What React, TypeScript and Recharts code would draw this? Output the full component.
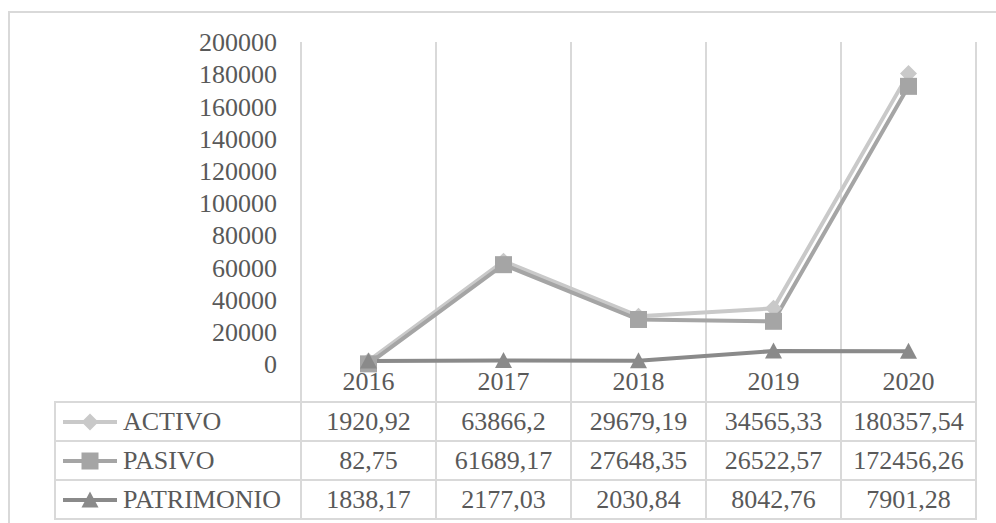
import { LineChart, Line, XAxis, YAxis, CartesianGrid } from 'recharts';

const YEARS = ['2016', '2017', '2018', '2019', '2020'];
const ACTIVO = [1920.92, 63866.2, 29679.19, 34565.33, 180357.54];
const PASIVO = [82.75, 61689.17, 27648.35, 26522.57, 172456.26];
const PATRIMONIO = [1838.17, 2177.03, 2030.84, 8042.76, 7901.28];
const Y_TICKS = [0, 20000, 40000, 60000, 80000, 100000, 120000, 140000, 160000, 180000, 200000];

const FONT = '"Liberation Serif", "Times New Roman", serif';
const TEXT = '#595959';
const GRID = '#d9d9d9';

const SERIES = [
  { key: 'activo', name: 'ACTIVO', values: ACTIVO, color: '#c9c9c9', shape: 'diamond' },
  { key: 'pasivo', name: 'PASIVO', values: PASIVO, color: '#a5a5a5', shape: 'square' },
  { key: 'patrimonio', name: 'PATRIMONIO', values: PATRIMONIO, color: '#8a8a8a', shape: 'triangle' },
];

const data = YEARS.map((year, i) => ({
  year,
  activo: ACTIVO[i],
  pasivo: PASIVO[i],
  patrimonio: PATRIMONIO[i],
}));

const W = 996;
const H = 523;
const PLOT_LEFT = 301;
const PLOT_RIGHT = 976;
const PLOT_TOP = 42;
const PLOT_BOTTOM = 364;
const COL_W = (PLOT_RIGHT - PLOT_LEFT) / YEARS.length;
const ROW_H = 38;

function fmt(v: number) {
  return String(v).replace('.', ',');
}

function Marker({ shape, cx, cy, color }: { shape: string; cx: number; cy: number; color: string }) {
  const s = 8.5;
  if (shape === 'diamond') {
    return <polygon points={`${cx},${cy - s} ${cx + s},${cy} ${cx},${cy + s} ${cx - s},${cy}`} fill={color} />;
  }
  if (shape === 'square') {
    return <rect x={cx - s} y={cy - s} width={s * 2} height={s * 2} fill={color} />;
  }
  return <polygon points={`${cx},${cy - s} ${cx + s},${cy + s - 1} ${cx - s},${cy + s - 1}`} fill={color} />;
}

const makeDot = (shape: string, color: string) => (props: any) => {
  const { cx, cy, index } = props;
  if (cx == null || cy == null) return <g key={index} />;
  return <Marker key={index} shape={shape} cx={cx} cy={cy} color={color} />;
};

function Swatch({ shape, color }: { shape: string; color: string }) {
  return (
    <svg width={56} height={22} style={{ display: 'block' }}>
      <line x1={1} y1={11} x2={55} y2={11} stroke={color} strokeWidth={4} />
      <Marker shape={shape} cx={28} cy={11} color={color} />
    </svg>
  );
}

const cell = {
  border: `2px solid ${GRID}`,
  height: ROW_H - 1,
  padding: 0,
  textAlign: 'center' as const,
  width: COL_W - 2,
};

export default function App() {
  return (
    <div
      style={{
        position: 'absolute',
        left: 0,
        top: 0,
        width: W,
        height: H,
        background: '#fff',
        fontFamily: FONT,
        color: TEXT,
        overflow: 'hidden',
      }}
    >
      {/* chart frame */}
      <div
        style={{
          position: 'absolute',
          left: 8,
          top: 11,
          width: W,
          height: H,
          borderLeft: `2px solid ${GRID}`,
          borderTop: `2px solid ${GRID}`,
        }}
      />
      <LineChart
        width={W}
        height={H}
        data={data}
        style={{ position: 'absolute', left: 0, top: 0 }}
        margin={{ top: PLOT_TOP, right: W - PLOT_RIGHT, bottom: H - PLOT_BOTTOM, left: PLOT_LEFT - 100 }}
      >
        <CartesianGrid
          horizontal={false}
          stroke={GRID}
          strokeWidth={2}
          verticalCoordinatesGenerator={({ offset }: any) =>
            YEARS.map((_, i) => offset.left + i * (offset.width / YEARS.length)).concat(offset.left + offset.width)
          }
        />
        <XAxis
          dataKey="year"
          height={0}
          tick={false}
          tickLine={false}
          axisLine={{ stroke: GRID, strokeWidth: 2 }}
          padding={{ left: COL_W / 2, right: COL_W / 2 }}
        />
        <YAxis
          width={100}
          domain={[0, 200000]}
          ticks={Y_TICKS}
          interval={0}
          tickLine={false}
          axisLine={{ stroke: GRID, strokeWidth: 2 }}
          tickMargin={18}
          tick={{ fill: TEXT, fontSize: 26, fontFamily: FONT }}
        />
        {SERIES.map((s) => (
          <Line
            key={s.key}
            type="linear"
            dataKey={s.key}
            stroke={s.color}
            strokeWidth={4}
            dot={makeDot(s.shape, s.color)}
            activeDot={false}
            isAnimationActive={false}
          />
        ))}
      </LineChart>

      {/* data table */}
      <table
        style={{
          position: 'absolute',
          left: 54,
          top: PLOT_BOTTOM - 1,
          borderCollapse: 'collapse',
          fontSize: 26,
          fontFamily: FONT,
          color: TEXT,
          tableLayout: 'fixed',
        }}
      >
        <tbody>
          <tr>
            <td style={{ ...cell, height: ROW_H, width: PLOT_LEFT - 55 - 2, borderTop: 'none', borderLeft: 'none' }} />
            {YEARS.map((y) => (
              <td key={y} style={{ ...cell, height: ROW_H, borderTop: 'none' }}>
                {y}
              </td>
            ))}
          </tr>
          {SERIES.map((s) => (
            <tr key={s.key}>
              <td style={{ ...cell, width: PLOT_LEFT - 55 - 2, textAlign: 'left' }}>
                <div style={{ display: 'flex', alignItems: 'center', paddingLeft: 6, gap: 5 }}>
                  <Swatch shape={s.shape} color={s.color} />
                  <span>{s.name}</span>
                </div>
              </td>
              {s.values.map((v, i) => (
                <td key={i} style={cell}>
                  {fmt(v)}
                </td>
              ))}
            </tr>
          ))}
        </tbody>
      </table>
    </div>
  );
}
